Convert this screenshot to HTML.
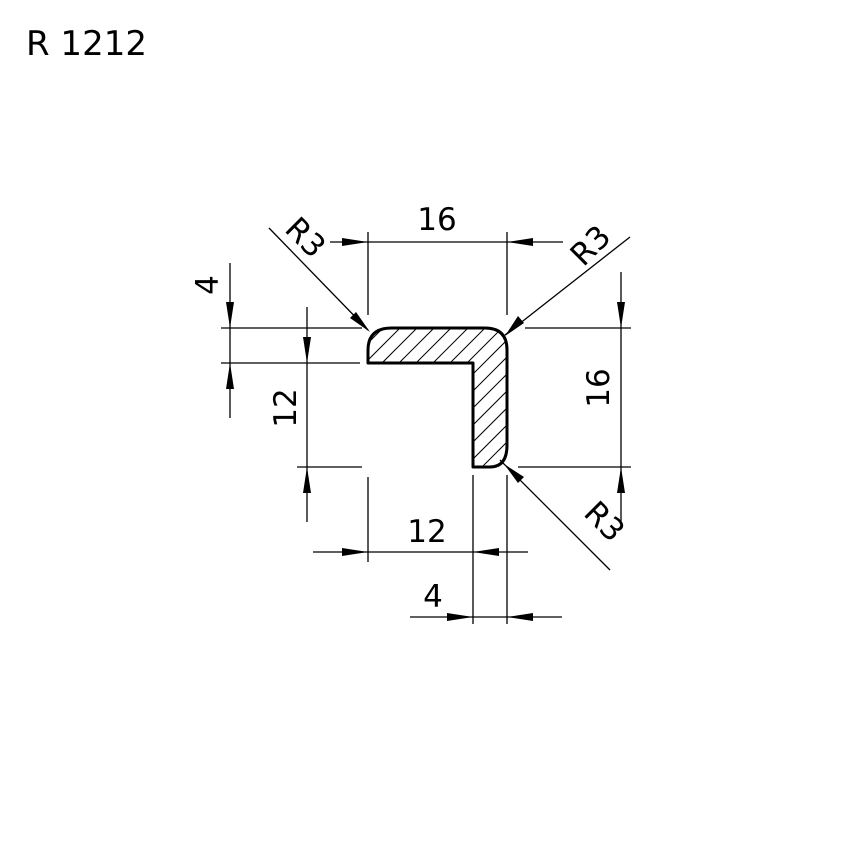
<!DOCTYPE html>
<html><head><style>
html,body{margin:0;padding:0;background:#fff;}
svg{display:block;}
text{font-family:"DejaVu Sans","Liberation Sans",sans-serif;fill:#000;}
</style></head><body>
<svg width="860" height="863" viewBox="0 0 860 863" xmlns="http://www.w3.org/2000/svg">
<defs>
<clipPath id="c"><path d="M368,363 L368,350 Q368,328 392,328 L485,328 Q507,328 507,350 L507,445 Q507,467 490,467 L473,467 L473,363 Z"/></clipPath>
</defs>
<text x="26" y="55" font-size="34">R 1212</text>
<g clip-path="url(#c)" stroke="#000" stroke-width="1">
<line x1="100" y1="560" x2="360" y2="300"/><line x1="117" y1="560" x2="377" y2="300"/><line x1="134" y1="560" x2="394" y2="300"/><line x1="151" y1="560" x2="411" y2="300"/><line x1="168" y1="560" x2="428" y2="300"/><line x1="185" y1="560" x2="445" y2="300"/><line x1="202" y1="560" x2="462" y2="300"/><line x1="219" y1="560" x2="479" y2="300"/><line x1="236" y1="560" x2="496" y2="300"/><line x1="253" y1="560" x2="513" y2="300"/><line x1="270" y1="560" x2="530" y2="300"/><line x1="287" y1="560" x2="547" y2="300"/><line x1="304" y1="560" x2="564" y2="300"/><line x1="321" y1="560" x2="581" y2="300"/><line x1="338" y1="560" x2="598" y2="300"/><line x1="355" y1="560" x2="615" y2="300"/><line x1="372" y1="560" x2="632" y2="300"/><line x1="389" y1="560" x2="649" y2="300"/><line x1="406" y1="560" x2="666" y2="300"/><line x1="423" y1="560" x2="683" y2="300"/><line x1="440" y1="560" x2="700" y2="300"/>
</g>
<path d="M368,363 L368,350 Q368,328 392,328 L485,328 Q507,328 507,350 L507,445 Q507,467 490,467 L473,467 L473,363 Z" fill="none" stroke="#000" stroke-width="3" stroke-linejoin="round"/>
<g stroke="#000" stroke-width="1.3" fill="none">
<line x1="368" y1="232" x2="368" y2="315"/><line x1="507" y1="232" x2="507" y2="315"/>
<line x1="330" y1="242" x2="563" y2="242"/>
<line x1="269" y1="228" x2="368" y2="330"/>
<line x1="630" y1="237" x2="505" y2="335"/>
<line x1="500" y1="460" x2="610" y2="570"/>
<line x1="221" y1="328" x2="362" y2="328"/><line x1="221" y1="363" x2="360" y2="363"/>
<line x1="230" y1="263" x2="230" y2="418"/>
<line x1="297" y1="467" x2="362" y2="467"/>
<line x1="307" y1="307" x2="307" y2="522"/>
<line x1="525" y1="328" x2="631" y2="328"/><line x1="518" y1="467" x2="631" y2="467"/>
<line x1="621" y1="272" x2="621" y2="521"/>
<line x1="368" y1="477" x2="368" y2="562"/><line x1="473" y1="475" x2="473" y2="624"/>
<line x1="313" y1="552" x2="528" y2="552"/>
<line x1="507" y1="475" x2="507" y2="624"/>
<line x1="410" y1="617" x2="562" y2="617"/>
</g>
<g fill="#000">
<polygon points="368,242 342,238 342,246"/>
<polygon points="507,242 533,238 533,246"/>
<polygon points="230,328 226,302 234,302"/>
<polygon points="230,363 226,389 234,389"/>
<polygon points="307,363 303,337 311,337"/>
<polygon points="307,467 303,493 311,493"/>
<polygon points="621,328 617,302 625,302"/>
<polygon points="621,467 617,493 625,493"/>
<polygon points="368,552 342,548 342,556"/>
<polygon points="473,552 499,548 499,556"/>
<polygon points="473,617 447,613 447,621"/>
<polygon points="507,617 533,613 533,621"/>
<polygon points="370,332 350,318 356,312"/>
<polygon points="505,336 518,316 524,323"/>
<polygon points="504,464 524,477 518,483"/>
</g>
<g font-size="31">
<text x="437" y="230" text-anchor="middle">16</text>
<text x="427" y="542" text-anchor="middle">12</text>
<text x="433" y="607" text-anchor="middle">4</text>
<text transform="translate(218,285) rotate(-90)" text-anchor="middle">4</text>
<text transform="translate(296,408) rotate(-90)" text-anchor="middle">12</text>
<text transform="translate(609,388) rotate(-90)" text-anchor="middle">16</text>
<text transform="translate(298,245) rotate(45)" text-anchor="middle">R3</text>
<text transform="translate(598,253) rotate(-45)" text-anchor="middle">R3</text>
<text transform="translate(597,529) rotate(45)" text-anchor="middle">R3</text>
</g>
</svg>
</body></html>
